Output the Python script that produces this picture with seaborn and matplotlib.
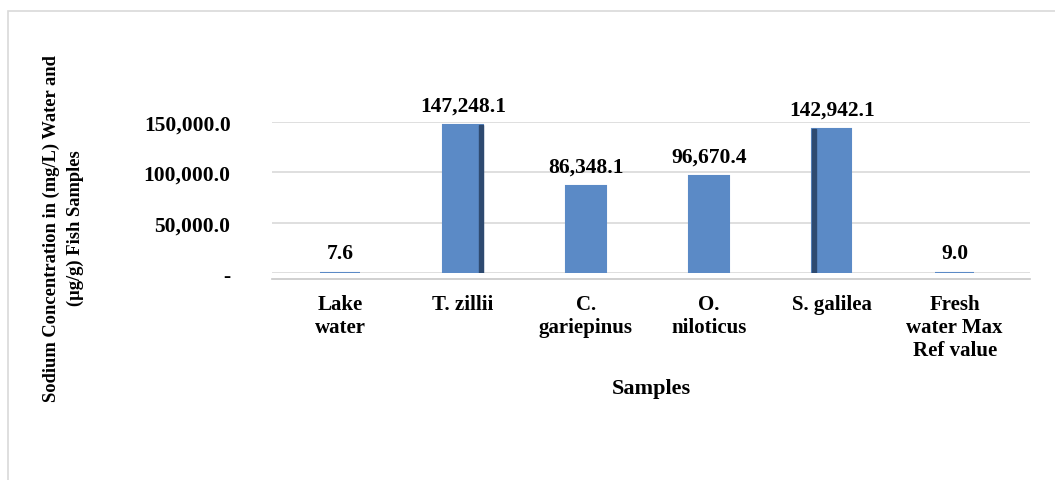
import matplotlib
matplotlib.use("Agg")
import matplotlib.pyplot as plt
import matplotlib.patches as mpatches
import pandas as pd
import seaborn as sns

samples = ["Lake\nwater", "T. zillii", "C.\ngariepinus", "O.\nniloticus",
           "S. galilea", "Fresh\nwater Max\nRef value"]
sodium = [7.6, 147248.1, 86348.1, 96670.4, 142942.1, 9.0]
yticks = [0, 50000, 100000, 150000]
ytick_labels = ["-", "50,000.0", "100,000.0", "150,000.0"]

df = pd.DataFrame({"Samples": samples, "Sodium": sodium})

sns.set_style("white")
plt.rcParams["font.family"] = ["Liberation Serif", "DejaVu Serif"]
plt.rcParams["font.weight"] = "bold"
plt.rcParams["text.color"] = "black"
plt.rcParams["xtick.color"] = "black"
plt.rcParams["ytick.color"] = "black"
plt.rcParams["axes.labelcolor"] = "black"

fig = plt.figure(figsize=(10.55, 4.81), dpi=100)
ax = fig.add_axes([0.258, 0.430, 0.718, 0.314])

sns.barplot(data=df, x="Samples", y="Sodium", color="#5B8AC6", width=0.32,
            saturation=1, ax=ax, zorder=3, edgecolor="#5B8AC6", linewidth=1.5)

bars = list(ax.patches)
# dark side faces (3-D look) only visible on two bars
side_faces = {1: "right", 4: "left"}
for i, where in side_faces.items():
    p = bars[i]
    x0, w, h = p.get_x(), p.get_width(), p.get_height()
    side = w * 0.1
    sx = x0 + w - side if where == "right" else x0
    ax.add_patch(mpatches.Rectangle((sx, 0), side, h, color="#2E4A70", zorder=4))

for p, v in zip(bars, sodium):
    cx = p.get_x() + p.get_width() / 2
    ax.annotate(f"{v:,.1f}", (cx, v), xytext=(0, 7), textcoords="offset points",
                ha="center", va="bottom", fontsize=15.5, fontweight="bold")

ax.set_ylim(0, 150000)
ax.set_xlim(-0.553, 5.61)
ax.set_yticks(yticks)
ax.set_yticklabels(ytick_labels, fontsize=15.5, fontweight="bold")
ax.tick_params(axis="y", length=0, pad=30)
ax.tick_params(axis="x", length=0, pad=11, labelsize=15)
for lab in ax.get_xticklabels():
    lab.set_fontweight("bold")
    lab.set_va("top")
    lab.set_linespacing(0.92)

ax.yaxis.grid(True, color="#D9D9D9", linewidth=1.2, zorder=0)
for s in ["top", "right", "left"]:
    ax.spines[s].set_visible(False)
ax.spines["bottom"].set_color("#C8C8C8")
ax.spines["bottom"].set_linewidth(1.2)
ax.spines["bottom"].set_position(("outward", 4))

ax.set_xlabel("Samples", fontsize=16, fontweight="bold", labelpad=13)
ax.set_ylabel("")
fig.text(0.06, 0.525, "Sodium Concentration in (mg/L) Water and\n(\u00b5g/g) Fish Samples",
         rotation=90, ha="center", va="center", fontsize=13.3, fontweight="bold",
         linespacing=1.55, multialignment="center")

fig.patches.append(mpatches.Rectangle((8 / 1055, -0.1), 1.2, 1 - 12 / 481 + 0.1,
                                      transform=fig.transFigure, fill=False,
                                      edgecolor="#D9D9D9", linewidth=1.2))

fig.savefig("out.png", dpi=100)
